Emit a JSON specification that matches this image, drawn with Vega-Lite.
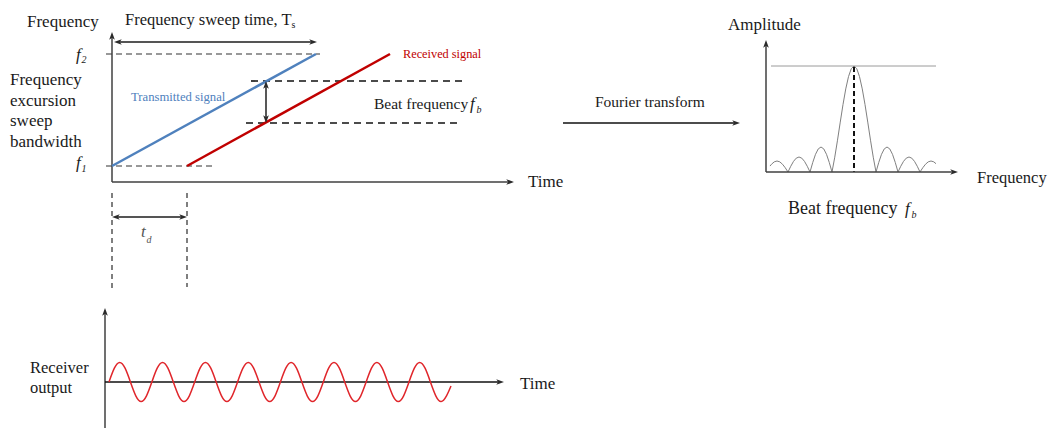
{
  "$schema": "https://vega.github.io/schema/vega-lite/v6.json",
  "width": 1049,
  "height": 428,
  "padding": 0,
  "autosize": {"type": "none"},
  "background": "white",
  "config": {"view": {"stroke": null}, "text": {"font": "Liberation Serif"}},
  "datasets": {
    "axes": [
      {"x": 112, "y": 182, "x2": 112, "y2": 37},
      {"x": 112, "y": 182, "x2": 509, "y2": 182},
      {"x": 766, "y": 172, "x2": 766, "y2": 45},
      {"x": 766, "y": 172, "x2": 953, "y2": 172},
      {"x": 105, "y": 428, "x2": 105, "y2": 313}
    ],
    "axesBlack": [
      {"x": 105, "y": 382, "x2": 499, "y2": 382},
      {"x": 563, "y": 123, "x2": 735, "y2": 123},
      {"x": 266, "y": 85, "x2": 266, "y2": 119}
    ],
    "greyArrows": [
      {"x": 117, "y": 42, "x2": 312, "y2": 42},
      {"x": 117, "y": 217, "x2": 182, "y2": 217}
    ],
    "dashGrey": [
      {"x": 106, "y": 54, "x2": 320, "y2": 54},
      {"x": 106, "y": 166, "x2": 212, "y2": 166}
    ],
    "dashBlack": [
      {"x": 251, "y": 81, "x2": 466, "y2": 81},
      {"x": 246, "y": 123, "x2": 460, "y2": 123}
    ],
    "dashPeak": [
      {"x": 854, "y": 67, "x2": 854, "y2": 172}
    ],
    "dashVert": [
      {"x": 112, "y": 193, "x2": 112, "y2": 290},
      {"x": 187, "y": 193, "x2": 187, "y2": 287}
    ],
    "specTop": [
      {"x": 771, "y": 66, "x2": 936, "y2": 66}
    ],
    "blue": [
      {"x": 112, "y": 166, "x2": 316, "y2": 54}
    ],
    "red": [
      {"x": 187, "y": 166, "x2": 390, "y2": 54}
    ],
    "sine": [
      {"x": 109.0, "y": 382}, {"x": 114.36, "y": 368.2}, {"x": 119.71, "y": 362.5}, {"x": 125.07, "y": 368.2},
      {"x": 130.43, "y": 382}, {"x": 135.79, "y": 395.8}, {"x": 141.14, "y": 401.5}, {"x": 146.5, "y": 395.8},
      {"x": 151.86, "y": 382}, {"x": 157.21, "y": 368.2}, {"x": 162.57, "y": 362.5}, {"x": 167.93, "y": 368.2},
      {"x": 173.29, "y": 382}, {"x": 178.64, "y": 395.8}, {"x": 184.0, "y": 401.5}, {"x": 189.36, "y": 395.8},
      {"x": 194.71, "y": 382}, {"x": 200.07, "y": 368.2}, {"x": 205.43, "y": 362.5}, {"x": 210.79, "y": 368.2},
      {"x": 216.14, "y": 382}, {"x": 221.5, "y": 395.8}, {"x": 226.86, "y": 401.5}, {"x": 232.21, "y": 395.8},
      {"x": 237.57, "y": 382}, {"x": 242.93, "y": 368.2}, {"x": 248.29, "y": 362.5}, {"x": 253.64, "y": 368.2},
      {"x": 259.0, "y": 382}, {"x": 264.36, "y": 395.8}, {"x": 269.71, "y": 401.5}, {"x": 275.07, "y": 395.8},
      {"x": 280.43, "y": 382}, {"x": 285.79, "y": 368.2}, {"x": 291.14, "y": 362.5}, {"x": 296.5, "y": 368.2},
      {"x": 301.86, "y": 382}, {"x": 307.21, "y": 395.8}, {"x": 312.57, "y": 401.5}, {"x": 317.93, "y": 395.8},
      {"x": 323.29, "y": 382}, {"x": 328.64, "y": 368.2}, {"x": 334.0, "y": 362.5}, {"x": 339.36, "y": 368.2},
      {"x": 344.71, "y": 382}, {"x": 350.07, "y": 395.8}, {"x": 355.43, "y": 401.5}, {"x": 360.79, "y": 395.8},
      {"x": 366.14, "y": 382}, {"x": 371.5, "y": 368.2}, {"x": 376.86, "y": 362.5}, {"x": 382.21, "y": 368.2},
      {"x": 387.57, "y": 382}, {"x": 392.93, "y": 395.8}, {"x": 398.29, "y": 401.5}, {"x": 403.64, "y": 395.8},
      {"x": 409.0, "y": 382}, {"x": 414.36, "y": 368.2}, {"x": 419.71, "y": 362.5}, {"x": 425.07, "y": 368.2},
      {"x": 430.43, "y": 382}, {"x": 435.79, "y": 395.8}, {"x": 441.14, "y": 401.5}, {"x": 446.5, "y": 395.8},
      {"x": 451.0, "y": 386}
    ],
    "spectrum": [
      {"x": 770, "y": 166.05}, {"x": 771.5, "y": 164.22}, {"x": 774.25, "y": 161.84}, {"x": 777, "y": 161},
      {"x": 779.75, "y": 161.84}, {"x": 782.5, "y": 164.22}, {"x": 785.25, "y": 167.79}, {"x": 788, "y": 172},
      {"x": 790.75, "y": 166.26}, {"x": 793.5, "y": 161.39}, {"x": 796.25, "y": 158.14}, {"x": 799, "y": 157},
      {"x": 801.75, "y": 158.14}, {"x": 804.5, "y": 161.39}, {"x": 807.25, "y": 166.26}, {"x": 810, "y": 172},
      {"x": 812.75, "y": 162.43}, {"x": 815.5, "y": 154.32}, {"x": 818.25, "y": 148.9}, {"x": 821, "y": 147},
      {"x": 823.75, "y": 148.9}, {"x": 826.5, "y": 154.32}, {"x": 829.25, "y": 162.43}, {"x": 832, "y": 172},
      {"x": 834.75, "y": 157.2}, {"x": 837.5, "y": 140.2}, {"x": 840.25, "y": 122.1}, {"x": 843, "y": 104.5},
      {"x": 845.75, "y": 88.9}, {"x": 848.5, "y": 76.6}, {"x": 851.25, "y": 68.7}, {"x": 854, "y": 66},
      {"x": 856.75, "y": 68.7}, {"x": 859.5, "y": 76.6}, {"x": 862.25, "y": 88.9}, {"x": 865, "y": 104.5},
      {"x": 867.75, "y": 122.1}, {"x": 870.5, "y": 140.2}, {"x": 873.25, "y": 157.2}, {"x": 876, "y": 172},
      {"x": 878.75, "y": 162.43}, {"x": 881.5, "y": 154.32}, {"x": 884.25, "y": 148.9}, {"x": 887, "y": 147},
      {"x": 889.75, "y": 148.9}, {"x": 892.5, "y": 154.32}, {"x": 895.25, "y": 162.43}, {"x": 898, "y": 172},
      {"x": 900.75, "y": 166.26}, {"x": 903.5, "y": 161.39}, {"x": 906.25, "y": 158.14}, {"x": 909, "y": 157},
      {"x": 911.75, "y": 158.14}, {"x": 914.5, "y": 161.39}, {"x": 917.25, "y": 166.26}, {"x": 920, "y": 172},
      {"x": 922.75, "y": 167.79}, {"x": 925.5, "y": 164.22}, {"x": 928.25, "y": 161.84}, {"x": 931, "y": 161},
      {"x": 933.75, "y": 161.84}, {"x": 936, "y": 163.7}
    ],
    "heads": [
      {"x": 112, "y": 32, "d": "up"},
      {"x": 514, "y": 182, "d": "right"},
      {"x": 114, "y": 42, "d": "left"},
      {"x": 317, "y": 42, "d": "right"},
      {"x": 266, "y": 81, "d": "up"},
      {"x": 266, "y": 123, "d": "down"},
      {"x": 112, "y": 217, "d": "left"},
      {"x": 187, "y": 217, "d": "right"},
      {"x": 105, "y": 308, "d": "up"},
      {"x": 504, "y": 382, "d": "right"},
      {"x": 740, "y": 123, "d": "right"},
      {"x": 766, "y": 40, "d": "up"},
      {"x": 958, "y": 172, "d": "right"}
    ],
    "t17": [
      {"x": 27, "y": 26.5, "t": "Frequency"},
      {"x": 10, "y": 85, "t": "Frequency"},
      {"x": 10, "y": 105.5, "t": "excursion"},
      {"x": 10, "y": 126, "t": "sweep"},
      {"x": 10, "y": 146.5, "t": "bandwidth"},
      {"x": 728, "y": 29.5, "t": "Amplitude"},
      {"x": 528, "y": 187, "t": "Time"},
      {"x": 520, "y": 389, "t": "Time"}
    ],
    "t16": [
      {"x": 125, "y": 24.5, "t": "Frequency sweep time, T"},
      {"x": 977, "y": 182.5, "t": "Frequency"},
      {"x": 30, "y": 373.3, "t": "Receiver"},
      {"x": 30, "y": 393.3, "t": "output"}
    ],
    "t15": [
      {"x": 374, "y": 109, "t": "Beat frequency"},
      {"x": 595, "y": 106.7, "t": "Fourier transform"}
    ],
    "t18": [
      {"x": 788, "y": 214, "t": "Beat frequency"}
    ],
    "sub": [
      {"x": 291.5, "y": 27.5, "t": "s"}
    ],
    "ital": [
      {"x": 76, "y": 59.5, "t": "f"},
      {"x": 76, "y": 168, "t": "f"},
      {"x": 470, "y": 109, "t": "f"},
      {"x": 905, "y": 214, "t": "f"}
    ],
    "italSub": [
      {"x": 81.5, "y": 63, "t": "2"},
      {"x": 81.5, "y": 171.5, "t": "1"},
      {"x": 476.5, "y": 112.5, "t": "b"},
      {"x": 911.5, "y": 217.5, "t": "b"}
    ],
    "td": [
      {"x": 141, "y": 237, "t": "t"}
    ],
    "tdSub": [
      {"x": 146.5, "y": 243, "t": "d"}
    ],
    "blueText": [
      {"x": 131, "y": 100.7, "t": "Transmitted signal"}
    ],
    "redText": [
      {"x": 403, "y": 58.3, "t": "Received signal"}
    ]
  },
  "encoding": {
    "x": {"field": "x", "type": "quantitative", "scale": {"domain": [0, 1049], "nice": false, "zero": false}, "axis": null},
    "y": {"field": "y", "type": "quantitative", "scale": {"domain": [0, 428], "reverse": true, "nice": false, "zero": false}, "axis": null}
  },
  "layer": [
    {"data": {"name": "specTop"}, "mark": {"type": "rule", "color": "#9a9a9a", "strokeWidth": 1}, "encoding": {"x2": {"field": "x2"}, "y2": {"field": "y2"}}},
    {"data": {"name": "dashGrey"}, "mark": {"type": "rule", "color": "#333333", "strokeWidth": 1.2, "strokeDash": [6, 4]}, "encoding": {"x2": {"field": "x2"}, "y2": {"field": "y2"}}},
    {"data": {"name": "dashBlack"}, "mark": {"type": "rule", "color": "#111111", "strokeWidth": 1.6, "strokeDash": [7, 5]}, "encoding": {"x2": {"field": "x2"}, "y2": {"field": "y2"}}},
    {"data": {"name": "dashVert"}, "mark": {"type": "rule", "color": "#555555", "strokeWidth": 1.5, "strokeDash": [5, 4]}, "encoding": {"x2": {"field": "x2"}, "y2": {"field": "y2"}}},
    {"data": {"name": "spectrum"}, "mark": {"type": "line", "color": "#808080", "strokeWidth": 1}, "encoding": {}},
    {"data": {"name": "dashPeak"}, "mark": {"type": "rule", "color": "#111111", "strokeWidth": 2, "strokeDash": [5, 3]}, "encoding": {"x2": {"field": "x2"}, "y2": {"field": "y2"}}},
    {"data": {"name": "axes"}, "mark": {"type": "rule", "color": "#404040", "strokeWidth": 1.5}, "encoding": {"x2": {"field": "x2"}, "y2": {"field": "y2"}}},
    {"data": {"name": "axesBlack"}, "mark": {"type": "rule", "color": "#111111", "strokeWidth": 1.4}, "encoding": {"x2": {"field": "x2"}, "y2": {"field": "y2"}}},
    {"data": {"name": "greyArrows"}, "mark": {"type": "rule", "color": "#555555", "strokeWidth": 1.8}, "encoding": {"x2": {"field": "x2"}, "y2": {"field": "y2"}}},
    {"data": {"name": "blue"}, "mark": {"type": "rule", "color": "#4f81bd", "strokeWidth": 2.5}, "encoding": {"x2": {"field": "x2"}, "y2": {"field": "y2"}}},
    {"data": {"name": "red"}, "mark": {"type": "rule", "color": "#c00000", "strokeWidth": 2.5}, "encoding": {"x2": {"field": "x2"}, "y2": {"field": "y2"}}},
    {"data": {"name": "sine"}, "mark": {"type": "line", "color": "#e0262b", "strokeWidth": 1.5, "interpolate": "natural"}, "encoding": {}},
    {"data": {"name": "heads"}, "mark": {"type": "point", "filled": true, "size": 50, "color": "#2a2a2a", "opacity": 1, "strokeWidth": 0},
      "encoding": {"shape": {"field": "d", "type": "nominal", "legend": null,
        "scale": {"domain": ["right", "left", "up", "down"],
          "range": ["M0,0 L-2.2,-0.8 L-1.6,0 L-2.2,0.8 Z", "M0,0 L2.2,-0.8 L1.6,0 L2.2,0.8 Z", "M0,0 L-0.8,2.2 L0,1.6 L0.8,2.2 Z", "M0,0 L-0.8,-2.2 L0,-1.6 L0.8,-2.2 Z"]}}}},
    {"data": {"name": "t17"}, "mark": {"type": "text", "font": "Liberation Serif", "fontSize": 17, "align": "left", "baseline": "alphabetic", "color": "#1a1a1a"}, "encoding": {"text": {"field": "t"}}},
    {"data": {"name": "t16"}, "mark": {"type": "text", "font": "Liberation Serif", "fontSize": 16.5, "align": "left", "baseline": "alphabetic", "color": "#1a1a1a"}, "encoding": {"text": {"field": "t"}}},
    {"data": {"name": "t15"}, "mark": {"type": "text", "font": "Liberation Serif", "fontSize": 15.5, "align": "left", "baseline": "alphabetic", "color": "#1a1a1a"}, "encoding": {"text": {"field": "t"}}},
    {"data": {"name": "t18"}, "mark": {"type": "text", "font": "Liberation Serif", "fontSize": 18, "align": "left", "baseline": "alphabetic", "color": "#1a1a1a"}, "encoding": {"text": {"field": "t"}}},
    {"data": {"name": "sub"}, "mark": {"type": "text", "font": "Liberation Serif", "fontSize": 10, "align": "left", "baseline": "alphabetic", "color": "#1a1a1a"}, "encoding": {"text": {"field": "t"}}},
    {"data": {"name": "ital"}, "mark": {"type": "text", "font": "Liberation Serif", "fontSize": 17, "fontStyle": "italic", "align": "left", "baseline": "alphabetic", "color": "#1a1a1a"}, "encoding": {"text": {"field": "t"}}},
    {"data": {"name": "italSub"}, "mark": {"type": "text", "font": "Liberation Serif", "fontSize": 10, "fontStyle": "italic", "align": "left", "baseline": "alphabetic", "color": "#1a1a1a"}, "encoding": {"text": {"field": "t"}}},
    {"data": {"name": "td"}, "mark": {"type": "text", "font": "Liberation Serif", "fontSize": 17, "fontStyle": "italic", "align": "left", "baseline": "alphabetic", "color": "#555555"}, "encoding": {"text": {"field": "t"}}},
    {"data": {"name": "tdSub"}, "mark": {"type": "text", "font": "Liberation Serif", "fontSize": 10, "fontStyle": "italic", "align": "left", "baseline": "alphabetic", "color": "#555555"}, "encoding": {"text": {"field": "t"}}},
    {"data": {"name": "blueText"}, "mark": {"type": "text", "font": "Liberation Serif", "fontSize": 12.7, "align": "left", "baseline": "alphabetic", "color": "#4f81bd"}, "encoding": {"text": {"field": "t"}}},
    {"data": {"name": "redText"}, "mark": {"type": "text", "font": "Liberation Serif", "fontSize": 12.3, "align": "left", "baseline": "alphabetic", "color": "#c00000"}, "encoding": {"text": {"field": "t"}}}
  ]
}
